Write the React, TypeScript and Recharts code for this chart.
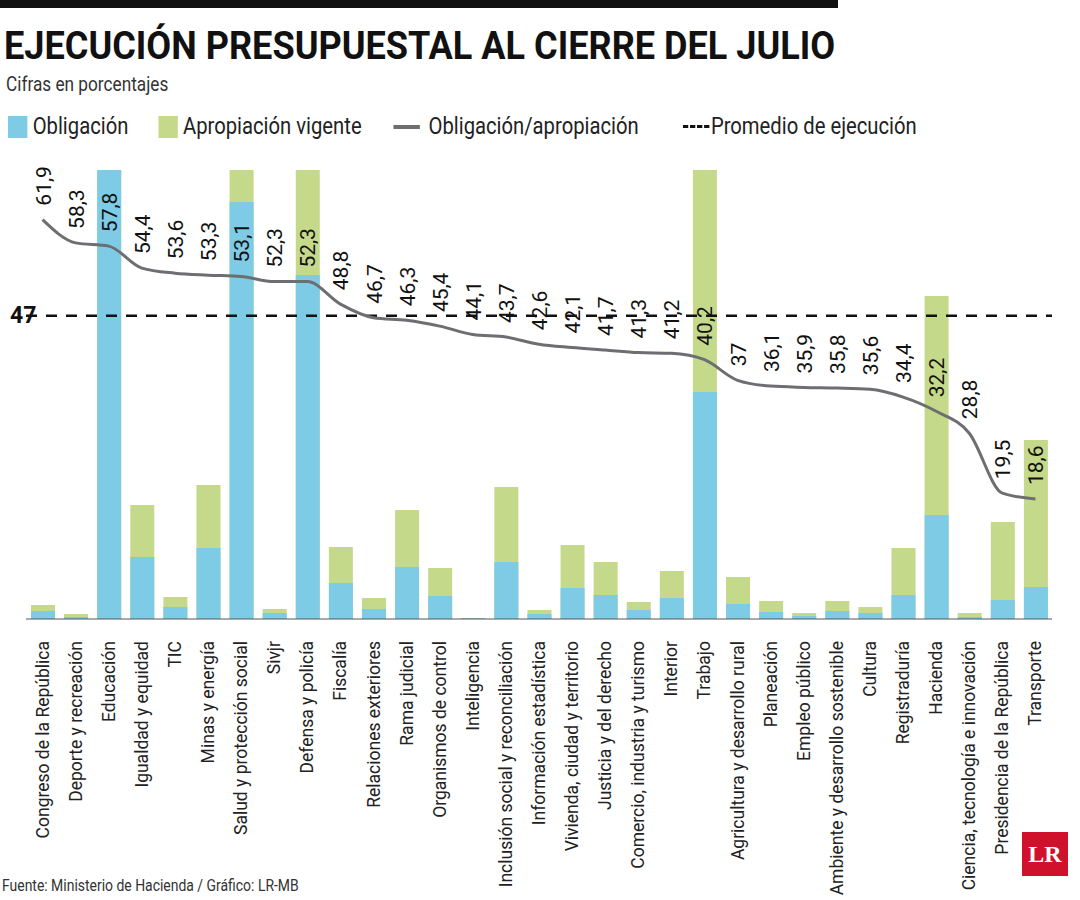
import { ComposedChart, Bar, Line, XAxis, YAxis, ReferenceLine, LabelList } from 'recharts';

const categories = ['Congreso de la República', 'Deporte y recreación', 'Educación', 'Igualdad y equidad', 'TIC', 'Minas y energía', 'Salud y protección social', 'Sivjr', 'Defensa y policía', 'Fiscalía', 'Relaciones exteriores', 'Rama judicial', 'Organismos de control', 'Inteligencia', 'Inclusión social y reconciliación', 'Información estadística', 'Vivienda, ciudad y territorio', 'Justicia y del derecho', 'Comercio, industria y turismo', 'Interior', 'Trabajo', 'Agricultura y desarrollo rural', 'Planeación', 'Empleo público', 'Ambiente y desarrollo sostenible', 'Cultura', 'Registraduría', 'Hacienda', 'Ciencia, tecnología e innovación', 'Presidencia de la República', 'Transporte'];
const obligacion = [8, 2, 500, 62, 12, 71, 417, 6, 344, 36, 10, 52, 23, 0.5, 57, 5, 31, 24, 9, 21, 227, 15, 7, 3, 8, 6, 24, 104, 2, 19, 32];
const apropiacion = [14, 5, 520, 114, 22, 134, 520, 10, 520, 72, 21, 109, 51, 1, 132, 9, 74, 57, 17, 48, 520, 42, 18, 6, 18, 12, 71, 323, 6, 97, 179];
const ratio = [61.9, 58.3, 57.8, 54.4, 53.6, 53.3, 53.1, 52.3, 52.3, 48.8, 46.7, 46.3, 45.4, 44.1, 43.7, 42.6, 42.1, 41.7, 41.3, 41.2, 40.2, 37, 36.1, 35.9, 35.8, 35.6, 34.4, 32.2, 28.8, 19.5, 18.6];
const promedio = 47;

const data = categories.map((name, i) => ({ name, obl: obligacion[i], apr: apropiacion[i], ratio: ratio[i] }));
const font = '"Liberation Sans Narrow", "Roboto", sans-serif';

const Tick = ({ x, y, payload }: any) => (
  <text x={x} y={y + 8} transform={`rotate(-90 ${x + 6} ${y + 8})`} textAnchor="end" fontSize={17.5} fill="#222" fontFamily={font}>
    {payload.value}
  </text>
);

const RatioLabel = ({ x, y, value }: any) => (
  <text x={x + 8} y={y - 14} transform={`rotate(-90 ${x + 8} ${y - 14})`} textAnchor="start" fontSize={21} fill="#111" fontFamily={font}>
    {String(value).replace('.', ',')}
  </text>
);

const narrow = { transform: 'scaleX(0.82)', transformOrigin: 'left center', whiteSpace: 'nowrap' as const };

export default function App() {
  return (
    <div style={{ position: 'absolute', left: 0, top: 0, width: 1080, height: 900, background: '#fff', fontFamily: font, overflow: 'hidden' }}>
      <div style={{ position: 'absolute', left: 0, top: 0, width: 838, height: 8, background: '#111' }} />
      <div style={{ position: 'absolute', left: 4, top: 24, fontSize: 38, fontWeight: 'bold', color: '#111', ...narrow, transform: 'scaleX(0.95)' }}>EJECUCIÓN PRESUPUESTAL AL CIERRE DEL JULIO</div>
      <div style={{ position: 'absolute', left: 6, top: 72, fontSize: 21, color: '#333', ...narrow }}>Cifras en porcentajes</div>
      <div style={{ position: 'absolute', left: 8, top: 113, fontSize: 23, color: '#222', display: 'flex', alignItems: 'center', ...narrow, transform: 'scaleX(0.88)' }}>
        <span style={{ width: 22, height: 22, background: '#7ecbe5', marginRight: 6 }} />Obligación
        <span style={{ width: 22, height: 22, background: '#c5d98a', marginLeft: 34, marginRight: 6 }} />Apropiación vigente
        <span style={{ width: 30, height: 4, background: '#6d6e71', marginLeft: 36, marginRight: 10 }} />Obligación/apropiación
        <span style={{ width: 30, borderTop: '3px dashed #111', marginLeft: 50, marginRight: 2 }} />Promedio de ejecución
      </div>
      <div style={{ position: 'absolute', left: 10, top: 302, fontSize: 23, fontWeight: 'bold', color: '#111' }}>47</div>
      <div style={{ position: 'absolute', top: 0, left: 0 }}>
        <ComposedChart width={1080} height={900} data={data} margin={{ top: 170, right: 28, bottom: 21, left: 26 }} barGap={-24}>
          <XAxis dataKey="name" interval={0} tick={<Tick />} height={260} tickLine={false} axisLine={{ stroke: '#555' }} />
          <YAxis yAxisId="bar" hide domain={[0, 449]} allowDataOverflow />
          <YAxis yAxisId="pct" hide domain={[0, 69.6]} />
          <Bar yAxisId="bar" dataKey="apr" fill="#c5d98a" barSize={24} isAnimationActive={false} />
          <Bar yAxisId="bar" dataKey="obl" fill="#7ecbe5" barSize={24} isAnimationActive={false} />
          <ReferenceLine yAxisId="pct" y={promedio} stroke="#111" strokeWidth={2.5} strokeDasharray="11 9" segment={[{ x: categories[0], y: promedio }, { x: categories[30], y: promedio }]} />
          <Line yAxisId="pct" type="monotone" dataKey="ratio" stroke="#6d6e71" strokeWidth={3} dot={false} isAnimationActive={false}>
            <LabelList dataKey="ratio" content={<RatioLabel />} />
          </Line>
        </ComposedChart>
      </div>
      <div style={{ position: 'absolute', left: 2, top: 875, fontSize: 17, color: '#333', ...narrow }}>Fuente: Ministerio de Hacienda / Gráfico: LR-MB</div>
      <div style={{ position: 'absolute', left: 1022, top: 832, width: 46, height: 44, background: '#d0112b', color: '#fff', fontSize: 24, fontWeight: 'bold', fontFamily: 'serif', display: 'flex', alignItems: 'center', justifyContent: 'center' }}>LR</div>
    </div>
  );
}
